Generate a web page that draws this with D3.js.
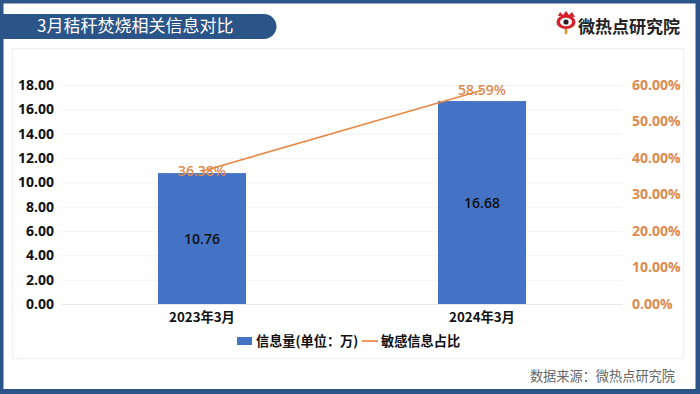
<!DOCTYPE html>
<html>
<head>
<meta charset="utf-8">
<script src="https://cdn.jsdelivr.net/npm/d3@7"></script>
<style>
  html, body { margin: 0; padding: 0; background: #fff; }
  text { font-family: "Noto Sans CJK SC", "Open Sans", sans-serif; }
</style>
</head>
<body>
<div id="chart"></div>
<script>
// data
var categories = ["2023年3月", "2024年3月"];
var infoValues = [10.76, 16.68];
var sensitiveShare = [36.38, 58.59];
var leftTicks = [0, 2, 4, 6, 8, 10, 12, 14, 16, 18];
var rightTicks = [0, 10, 20, 30, 40, 50, 60];
var legendLabels = ["信息量(单位：万)", "敏感信息占比"];

var width = 700, height = 394;
var margin = { top: 85, right: 78, bottom: 90, left: 62 };

var blue = "#2b5488", barBlue = "#4472c4", orange = "#ed7d31", orangeText = "#dd8a4e";

var svg = d3.select("#chart").append("svg")
  .attr("width", width)
  .attr("height", height)
  .style("display", "block");

// page frame
svg.append("rect").attr("width", width).attr("height", height).attr("fill", blue);
svg.append("rect")
  .attr("x", 3.5).attr("y", 3.5)
  .attr("width", 692).attr("height", 385.5)
  .attr("fill", "#fff");

// title bar
svg.append("path")
  .attr("d", "M0,14 H264 A12.5,12.5 0 0 1 264,39 H0 Z")
  .attr("fill", blue);
svg.append("text")
  .attr("x", 37).attr("y", 32)
  .attr("font-size", 17)
  .attr("fill", "#fff")
  .text("3月秸秆焚烧相关信息对比");

// chart box
svg.append("rect")
  .attr("x", 12.5).attr("y", 48.5)
  .attr("width", 671).attr("height", 310)
  .attr("fill", "#fff")
  .attr("stroke", "#f0f0f0");

// logo
var logo = svg.append("g").attr("transform", "translate(566,22)");
logo.append("ellipse").attr("rx", 9.5).attr("ry", 7).attr("fill", "#d7202c");
logo.append("ellipse").attr("rx", 6).attr("ry", 4.2).attr("fill", "#fff");
logo.append("circle").attr("r", 2.6).attr("fill", "#222");
logo.append("path")
  .attr("d", "M-8,-6 L-6,-10 L-3,-7 L0,-11 L3,-7 L6,-10 L9,-5 Z")
  .attr("fill", "#d7202c");
logo.append("path")
  .attr("d", "M0,7 L0,12")
  .attr("stroke", "#e8902f")
  .attr("stroke-width", 2.5);
svg.append("text")
  .attr("x", 578).attr("y", 33)
  .attr("font-size", 17)
  .attr("font-weight", 700)
  .attr("fill", "#222")
  .text("微热点研究院");

// scales
var x = d3.scaleBand()
  .domain(categories)
  .range([margin.left, width - margin.right]);

var y = d3.scaleLinear()
  .domain([0, 18])
  .range([height - margin.bottom, margin.top]);

var y2 = d3.scaleLinear()
  .domain([0, 60])
  .range([height - margin.bottom, margin.top]);

var barWidth = 88;

// gridlines
svg.append("g")
  .selectAll("line")
  .data(leftTicks)
  .enter()
  .append("line")
  .attr("x1", margin.left)
  .attr("x2", width - margin.right)
  .attr("y1", d => y(d) + 0.5)
  .attr("y2", d => y(d) + 0.5)
  .attr("stroke", "#f2f2f2");

// left axis
var yAxis = svg.append("g")
  .attr("transform", "translate(" + margin.left + ",0)")
  .call(d3.axisLeft(y).tickValues(leftTicks).tickFormat(d3.format(".2f")).tickSize(0).tickPadding(8));
yAxis.select(".domain").remove();
yAxis.selectAll("text")
  .style("font-family", '"Open Sans", sans-serif')
  .attr("font-size", 14)
  .attr("font-weight", 700)
  .attr("fill", "#111");

// right axis
var yAxisRight = svg.append("g")
  .attr("transform", "translate(" + (width - margin.right) + ",0)")
  .call(d3.axisRight(y2).tickValues(rightTicks).tickFormat(d => d3.format(".2f")(d) + "%").tickSize(0).tickPadding(10));
yAxisRight.select(".domain").remove();
yAxisRight.selectAll("text")
  .style("font-family", '"Open Sans", sans-serif')
  .attr("font-size", 14)
  .attr("font-weight", 700)
  .attr("fill", orangeText);

// bottom axis
var xAxis = svg.append("g")
  .attr("transform", "translate(0," + (height - margin.bottom) + ")")
  .call(d3.axisBottom(x).tickSize(0).tickPadding(9));
xAxis.select(".domain").attr("stroke", "#e8e8e8");
xAxis.selectAll("text")
  .attr("font-size", 13.3)
  .attr("font-weight", 700)
  .attr("fill", "#111");

// bars
svg.selectAll(".bar")
  .data(categories)
  .enter()
  .append("rect")
  .attr("class", "bar")
  .attr("x", d => x(d) + x.bandwidth() / 2 - barWidth / 2)
  .attr("y", (d, i) => y(infoValues[i]))
  .attr("width", barWidth)
  .attr("height", (d, i) => y(0) - y(infoValues[i]))
  .attr("fill", barBlue);

// bar labels
svg.selectAll(".barLabel")
  .data(categories)
  .enter()
  .append("text")
  .attr("class", "barLabel")
  .attr("x", d => x(d) + x.bandwidth() / 2)
  .attr("y", (d, i) => (y(infoValues[i]) + y(0)) / 2 + 5)
  .attr("text-anchor", "middle")
  .attr("font-size", 14)
  .attr("font-weight", 600)
  .style("font-family", '"Open Sans", sans-serif')
  .attr("fill", "#111")
  .text((d, i) => d3.format(".2f")(infoValues[i]));

// line for share of sensitive info
var line = d3.line()
  .x(d => x(d.cat) + x.bandwidth() / 2)
  .y(d => y2(d.val));

svg.append("path")
  .datum(categories.map((c, i) => ({ cat: c, val: sensitiveShare[i] })))
  .attr("d", line)
  .attr("fill", "none")
  .attr("stroke", "#e58a47")
  .attr("stroke-width", 1.6);

// line labels
svg.selectAll(".lineLabel")
  .data(categories)
  .enter()
  .append("text")
  .attr("class", "lineLabel")
  .attr("x", d => x(d) + x.bandwidth() / 2)
  .attr("y", (d, i) => y2(sensitiveShare[i]) + 5)
  .attr("text-anchor", "middle")
  .attr("font-size", 14)
  .attr("font-weight", 600)
  .style("font-family", '"Open Sans", sans-serif')
  .attr("fill", orangeText)
  .text((d, i) => d3.format(".2f")(sensitiveShare[i]) + "%");

// legend
svg.append("rect")
  .attr("x", 237).attr("y", 337)
  .attr("width", 15).attr("height", 8)
  .attr("fill", barBlue);
svg.append("text")
  .attr("x", 256).attr("y", 346)
  .attr("font-size", 13.2)
  .attr("font-weight", 700)
  .attr("fill", "#111")
  .text(legendLabels[0]);
svg.append("line")
  .attr("x1", 362).attr("x2", 378)
  .attr("y1", 341).attr("y2", 341)
  .attr("stroke", orange)
  .attr("stroke-width", 1.6);
svg.append("text")
  .attr("x", 381).attr("y", 346)
  .attr("font-size", 13.2)
  .attr("font-weight", 700)
  .attr("fill", "#111")
  .text(legendLabels[1]);

// source
svg.append("text")
  .attr("x", 675).attr("y", 381)
  .attr("text-anchor", "end")
  .attr("font-size", 13.2)
  .attr("fill", "#666")
  .text("数据来源：微热点研究院");
</script>
</body>
</html>
